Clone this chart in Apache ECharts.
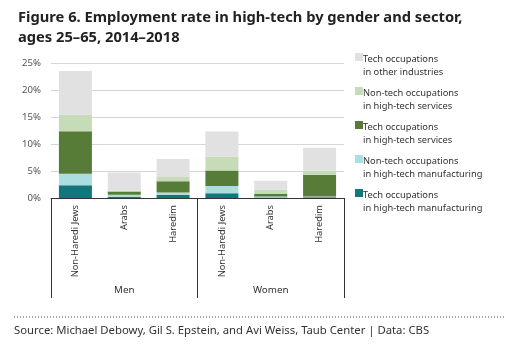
<!DOCTYPE html>
<html>
<head>
<meta charset="utf-8">
<script src="https://cdn.jsdelivr.net/npm/echarts@6/dist/echarts.min.js"></script>
<style>
  html, body { margin: 0; padding: 0; background: #fff; }
  #chart { width: 531px; height: 344px; }
</style>
</head>
<body>
<div id="chart"></div>
<script>
// Population groups within each gender
const categories = ['Non-Haredi Jews', 'Arabs', 'Haredim', 'Non-Haredi Jews', 'Arabs', 'Haredim'];
const genders = ['Men', 'Women'];

// Employment rate (%) by sector, stacked from the bottom up
const techManufacturing    = [2.35, 0.25, 0.6, 0.9, 0.1, 0.15];
const nonTechManufacturing = [2.15, 0.35, 0.4, 1.3, 0.2, 0.15];
const techServices         = [7.85, 0.6, 2.1, 2.9, 0.45, 4.0];
const nonTechServices      = [3.05, 0.2, 0.8, 2.6, 0.8, 0.8];
const techOther            = [8.1, 3.3, 3.3, 4.6, 1.65, 4.2];

const yTicks = [0, 5, 10, 15, 20, 25];

const seriesDefs = [
  { name: 'Tech occupations\nin high-tech manufacturing', data: techManufacturing, color: '#11777c' },
  { name: 'Non-tech occupations\nin high-tech manufacturing', data: nonTechManufacturing, color: '#aadee0' },
  { name: 'Tech occupations\nin high-tech services', data: techServices, color: '#567c38' },
  { name: 'Non-tech occupations\nin high-tech services', data: nonTechServices, color: '#c6dcb9' },
  { name: 'Tech occupations\nin other industries', data: techOther, color: '#e1e1e1' }
];

const font = 'Noto Sans';
const chart = echarts.init(document.getElementById('chart'), null, { renderer: 'canvas' });

// square at the top of a tall box, so the swatch sits beside the first text line
const swatch = 'path://M0,0L8,0L8,8L0,8Z M0,25.9L0.05,25.9L0.05,26L0,26Z';

chart.setOption({
  animation: false,
  textStyle: { fontFamily: font },
  title: {
    text: 'Figure 6. Employment rate in high-tech by gender and sector,\nages 25–65, 2014–2018',
    left: 13, top: 3,
    textStyle: { fontFamily: font, fontSize: 14.7, fontWeight: 'bold', color: '#222', lineHeight: 20 }
  },
  legend: {
    orient: 'vertical',
    left: 350, top: 48,
    itemWidth: 8, itemHeight: 26, itemGap: 8,
    icon: swatch,
    data: seriesDefs.map(s => s.name).reverse(),
    textStyle: { fontFamily: font, fontSize: 9.3, color: '#333', lineHeight: 13, padding: [0, 0, 0, -5] },
    selectedMode: false
  },
  grid: { left: 51, right: 187, top: 63, bottom: 146 },
  xAxis: [
    {
      type: 'category', data: categories, position: 'bottom',
      axisLine: { show: true, lineStyle: { color: '#333', width: 1 } },
      axisTick: { show: false },
      axisLabel: { rotate: 90, margin: 7, fontSize: 9.3, color: '#333', fontFamily: font }
    },
    {
      type: 'category', data: genders, position: 'bottom',
      axisLine: { show: false },
      axisTick: { show: true, inside: false, length: 100, lineStyle: { color: '#333', width: 1 } },
      axisLabel: { margin: 87, fontSize: 9.8, color: '#333', fontFamily: font }
    }
  ],
  yAxis: {
    type: 'value', min: 0, max: 25, interval: 5,
    axisLine: { show: false }, axisTick: { show: false },
    axisLabel: { formatter: '{value}%', fontSize: 9.6, color: '#555', margin: 10, fontFamily: font },
    splitLine: { lineStyle: { color: '#d6d6d6', width: 1 } }
  },
  series: seriesDefs.map(s => ({
    name: s.name, type: 'bar', stack: 'total', xAxisIndex: 0,
    data: s.data, barWidth: 33,
    itemStyle: { color: s.color }
  })),
  graphic: [
    {
      type: 'line', shape: { x1: 14, y1: 317, x2: 505, y2: 317 },
      style: { stroke: '#444', lineWidth: 1, lineDash: [1, 2] }
    },
    {
      type: 'text', left: 14, top: 325,
      style: { text: 'Source: Michael Debowy, Gil S. Epstein, and Avi Weiss, Taub Center | Data: CBS',
               font: '11.3px "Noto Sans"', fill: '#333' }
    }
  ]
});
</script>
</body>
</html>
